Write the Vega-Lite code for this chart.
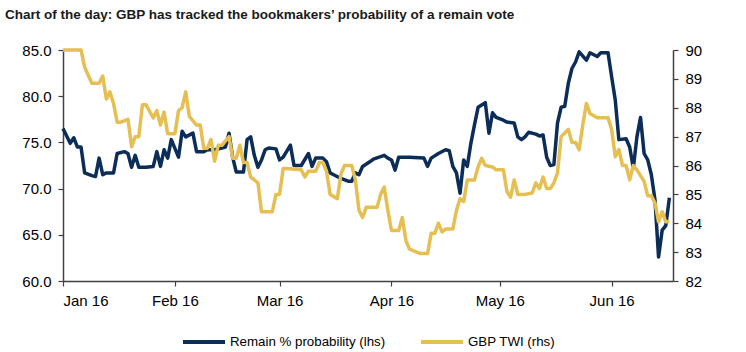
{
  "$schema": "https://vega.github.io/schema/vega-lite/v6.json",
  "width": 610,
  "height": 231,
  "padding": {"left": 5, "right": 5, "top": 7, "bottom": 0},
  "background": "white",
  "title": {
    "text": "Chart of the day: GBP has tracked the bookmakers’ probability of a remain vote",
    "anchor": "start",
    "frame": "bounds",
    "font": "Liberation Sans",
    "fontSize": 13.5,
    "fontWeight": "bold",
    "color": "#1a1a1a",
    "offset": 22
  },
  "datasets": {
    "remain": [
      {"date": "2016-01-01", "v": 76.5}, {"date": "2016-01-03", "v": 74.9}, {"date": "2016-01-04", "v": 75.5},
      {"date": "2016-01-05", "v": 74.5}, {"date": "2016-01-06", "v": 74.5}, {"date": "2016-01-07", "v": 71.7},
      {"date": "2016-01-09", "v": 71.4}, {"date": "2016-01-10", "v": 71.3}, {"date": "2016-01-11", "v": 73.3},
      {"date": "2016-01-12", "v": 71.5}, {"date": "2016-01-13", "v": 71.7}, {"date": "2016-01-15", "v": 71.7},
      {"date": "2016-01-16", "v": 73.8}, {"date": "2016-01-18", "v": 74.0}, {"date": "2016-01-19", "v": 73.8},
      {"date": "2016-01-20", "v": 72.3}, {"date": "2016-01-21", "v": 73.6}, {"date": "2016-01-22", "v": 72.3},
      {"date": "2016-01-24", "v": 72.3}, {"date": "2016-01-26", "v": 72.4}, {"date": "2016-01-27", "v": 74.0},
      {"date": "2016-01-28", "v": 72.4}, {"date": "2016-01-29", "v": 74.2}, {"date": "2016-01-30", "v": 73.3},
      {"date": "2016-01-31", "v": 75.3}, {"date": "2016-02-02", "v": 73.4}, {"date": "2016-02-03", "v": 76.2},
      {"date": "2016-02-04", "v": 75.6}, {"date": "2016-02-06", "v": 76.0}, {"date": "2016-02-07", "v": 74.0},
      {"date": "2016-02-09", "v": 74.0}, {"date": "2016-02-10", "v": 74.2}, {"date": "2016-02-12", "v": 74.2},
      {"date": "2016-02-14", "v": 74.4}, {"date": "2016-02-15", "v": 74.5}, {"date": "2016-02-16", "v": 76.0},
      {"date": "2016-02-17", "v": 73.4}, {"date": "2016-02-18", "v": 71.8}, {"date": "2016-02-20", "v": 71.8},
      {"date": "2016-02-21", "v": 75.3}, {"date": "2016-02-22", "v": 75.6}, {"date": "2016-02-23", "v": 73.6},
      {"date": "2016-02-24", "v": 72.3}, {"date": "2016-02-25", "v": 73.1}, {"date": "2016-02-26", "v": 74.2},
      {"date": "2016-02-27", "v": 74.4}, {"date": "2016-02-29", "v": 74.3}, {"date": "2016-03-01", "v": 73.1},
      {"date": "2016-03-02", "v": 73.4}, {"date": "2016-03-04", "v": 74.7}, {"date": "2016-03-05", "v": 72.5},
      {"date": "2016-03-07", "v": 72.5}, {"date": "2016-03-09", "v": 73.8}, {"date": "2016-03-10", "v": 72.4},
      {"date": "2016-03-11", "v": 73.3}, {"date": "2016-03-13", "v": 73.3}, {"date": "2016-03-14", "v": 72.9},
      {"date": "2016-03-15", "v": 71.7}, {"date": "2016-03-16", "v": 71.5}, {"date": "2016-03-18", "v": 71.1},
      {"date": "2016-03-20", "v": 70.8}, {"date": "2016-03-21", "v": 70.8}, {"date": "2016-03-22", "v": 71.7},
      {"date": "2016-03-23", "v": 71.5}, {"date": "2016-03-24", "v": 72.4}, {"date": "2016-03-26", "v": 72.9},
      {"date": "2016-03-27", "v": 73.2}, {"date": "2016-03-30", "v": 73.6}, {"date": "2016-03-31", "v": 73.3},
      {"date": "2016-04-01", "v": 73.1}, {"date": "2016-04-02", "v": 72.0}, {"date": "2016-04-03", "v": 73.4},
      {"date": "2016-04-06", "v": 73.4}, {"date": "2016-04-10", "v": 73.3}, {"date": "2016-04-11", "v": 72.4},
      {"date": "2016-04-12", "v": 73.3}, {"date": "2016-04-14", "v": 73.8}, {"date": "2016-04-16", "v": 74.2},
      {"date": "2016-04-17", "v": 74.1}, {"date": "2016-04-18", "v": 72.4}, {"date": "2016-04-19", "v": 71.7},
      {"date": "2016-04-20", "v": 69.5}, {"date": "2016-04-21", "v": 73.1}, {"date": "2016-04-22", "v": 72.4},
      {"date": "2016-04-23", "v": 74.9}, {"date": "2016-04-24", "v": 76.9}, {"date": "2016-04-25", "v": 78.8},
      {"date": "2016-04-27", "v": 79.3}, {"date": "2016-04-28", "v": 76.0}, {"date": "2016-04-29", "v": 78.2},
      {"date": "2016-04-30", "v": 77.7}, {"date": "2016-05-02", "v": 77.4}, {"date": "2016-05-03", "v": 77.2},
      {"date": "2016-05-05", "v": 77.1}, {"date": "2016-05-06", "v": 75.6}, {"date": "2016-05-07", "v": 75.3},
      {"date": "2016-05-08", "v": 75.6}, {"date": "2016-05-09", "v": 76.1}, {"date": "2016-05-11", "v": 75.9},
      {"date": "2016-05-12", "v": 75.7}, {"date": "2016-05-13", "v": 75.8}, {"date": "2016-05-14", "v": 73.4},
      {"date": "2016-05-15", "v": 72.5}, {"date": "2016-05-16", "v": 72.6}, {"date": "2016-05-17", "v": 77.1},
      {"date": "2016-05-18", "v": 78.8}, {"date": "2016-05-19", "v": 78.9}, {"date": "2016-05-20", "v": 81.4},
      {"date": "2016-05-21", "v": 83.0}, {"date": "2016-05-22", "v": 83.7}, {"date": "2016-05-23", "v": 84.8},
      {"date": "2016-05-25", "v": 83.9}, {"date": "2016-05-26", "v": 84.7}, {"date": "2016-05-28", "v": 84.3},
      {"date": "2016-05-29", "v": 84.7}, {"date": "2016-05-31", "v": 84.7}, {"date": "2016-06-01", "v": 82.1},
      {"date": "2016-06-02", "v": 79.6}, {"date": "2016-06-03", "v": 75.3}, {"date": "2016-06-05", "v": 75.4},
      {"date": "2016-06-06", "v": 74.5}, {"date": "2016-06-07", "v": 72.2}, {"date": "2016-06-08", "v": 75.6},
      {"date": "2016-06-09", "v": 77.7}, {"date": "2016-06-10", "v": 73.8}, {"date": "2016-06-11", "v": 73.1},
      {"date": "2016-06-12", "v": 71.5}, {"date": "2016-06-13", "v": 68.8}, {"date": "2016-06-14", "v": 62.6},
      {"date": "2016-06-15", "v": 65.5}, {"date": "2016-06-16", "v": 66.0}, {"date": "2016-06-17", "v": 69.0}
    ],
    "twi": [
      {"date": "2016-01-01", "v": 90.0}, {"date": "2016-01-06", "v": 90.0}, {"date": "2016-01-07", "v": 89.4},
      {"date": "2016-01-09", "v": 88.85}, {"date": "2016-01-11", "v": 88.85}, {"date": "2016-01-12", "v": 89.1},
      {"date": "2016-01-13", "v": 88.3}, {"date": "2016-01-14", "v": 88.55}, {"date": "2016-01-15", "v": 88.15},
      {"date": "2016-01-16", "v": 87.5}, {"date": "2016-01-17", "v": 87.5}, {"date": "2016-01-19", "v": 87.6},
      {"date": "2016-01-20", "v": 86.65}, {"date": "2016-01-21", "v": 87.0}, {"date": "2016-01-22", "v": 87.0},
      {"date": "2016-01-23", "v": 88.1}, {"date": "2016-01-24", "v": 88.1}, {"date": "2016-01-26", "v": 87.65},
      {"date": "2016-01-27", "v": 87.9}, {"date": "2016-01-28", "v": 87.4}, {"date": "2016-01-29", "v": 87.85},
      {"date": "2016-01-30", "v": 87.1}, {"date": "2016-02-01", "v": 87.1}, {"date": "2016-02-02", "v": 87.9},
      {"date": "2016-02-03", "v": 88.0}, {"date": "2016-02-04", "v": 88.55}, {"date": "2016-02-05", "v": 87.7},
      {"date": "2016-02-07", "v": 87.4}, {"date": "2016-02-08", "v": 87.4}, {"date": "2016-02-09", "v": 86.6},
      {"date": "2016-02-10", "v": 86.6}, {"date": "2016-02-11", "v": 86.9}, {"date": "2016-02-12", "v": 86.15},
      {"date": "2016-02-13", "v": 86.7}, {"date": "2016-02-14", "v": 86.7}, {"date": "2016-02-16", "v": 87.0},
      {"date": "2016-02-17", "v": 86.25}, {"date": "2016-02-18", "v": 86.25}, {"date": "2016-02-19", "v": 86.7},
      {"date": "2016-02-20", "v": 86.1}, {"date": "2016-02-21", "v": 86.1}, {"date": "2016-02-22", "v": 85.6},
      {"date": "2016-02-24", "v": 85.4}, {"date": "2016-02-25", "v": 84.4}, {"date": "2016-02-28", "v": 84.4},
      {"date": "2016-02-29", "v": 85.0}, {"date": "2016-03-01", "v": 85.0}, {"date": "2016-03-02", "v": 85.9},
      {"date": "2016-03-03", "v": 85.9}, {"date": "2016-03-07", "v": 85.85}, {"date": "2016-03-08", "v": 85.6},
      {"date": "2016-03-09", "v": 85.8}, {"date": "2016-03-11", "v": 85.8}, {"date": "2016-03-12", "v": 86.1},
      {"date": "2016-03-13", "v": 86.1}, {"date": "2016-03-14", "v": 85.8}, {"date": "2016-03-15", "v": 85.0},
      {"date": "2016-03-17", "v": 84.85}, {"date": "2016-03-18", "v": 85.7}, {"date": "2016-03-19", "v": 86.0},
      {"date": "2016-03-21", "v": 86.0}, {"date": "2016-03-22", "v": 85.5}, {"date": "2016-03-23", "v": 84.45},
      {"date": "2016-03-24", "v": 84.2}, {"date": "2016-03-25", "v": 84.55}, {"date": "2016-03-28", "v": 84.55},
      {"date": "2016-03-29", "v": 85.0}, {"date": "2016-03-30", "v": 85.25}, {"date": "2016-03-31", "v": 84.45},
      {"date": "2016-04-01", "v": 83.75}, {"date": "2016-04-03", "v": 83.75}, {"date": "2016-04-04", "v": 84.2},
      {"date": "2016-04-05", "v": 83.4}, {"date": "2016-04-06", "v": 83.1}, {"date": "2016-04-07", "v": 83.05},
      {"date": "2016-04-09", "v": 82.95}, {"date": "2016-04-11", "v": 82.95}, {"date": "2016-04-12", "v": 83.65},
      {"date": "2016-04-13", "v": 83.65}, {"date": "2016-04-14", "v": 84.0}, {"date": "2016-04-15", "v": 83.7},
      {"date": "2016-04-16", "v": 83.8}, {"date": "2016-04-18", "v": 83.8}, {"date": "2016-04-19", "v": 84.45},
      {"date": "2016-04-20", "v": 84.85}, {"date": "2016-04-21", "v": 84.75}, {"date": "2016-04-22", "v": 85.5},
      {"date": "2016-04-24", "v": 85.5}, {"date": "2016-04-25", "v": 85.95}, {"date": "2016-04-26", "v": 86.25},
      {"date": "2016-04-27", "v": 86.0}, {"date": "2016-04-29", "v": 85.95}, {"date": "2016-04-30", "v": 85.85},
      {"date": "2016-05-02", "v": 85.85}, {"date": "2016-05-03", "v": 85.1}, {"date": "2016-05-04", "v": 84.9},
      {"date": "2016-05-05", "v": 85.5}, {"date": "2016-05-06", "v": 85.0}, {"date": "2016-05-08", "v": 85.0},
      {"date": "2016-05-10", "v": 85.05}, {"date": "2016-05-11", "v": 85.4}, {"date": "2016-05-12", "v": 85.2},
      {"date": "2016-05-13", "v": 85.6}, {"date": "2016-05-14", "v": 85.2}, {"date": "2016-05-15", "v": 85.2},
      {"date": "2016-05-16", "v": 85.4}, {"date": "2016-05-17", "v": 85.75}, {"date": "2016-05-18", "v": 87.0},
      {"date": "2016-05-20", "v": 87.25}, {"date": "2016-05-21", "v": 86.8}, {"date": "2016-05-22", "v": 86.8},
      {"date": "2016-05-23", "v": 86.55}, {"date": "2016-05-24", "v": 87.4}, {"date": "2016-05-25", "v": 88.15},
      {"date": "2016-05-26", "v": 87.8}, {"date": "2016-05-28", "v": 87.65}, {"date": "2016-05-31", "v": 87.65},
      {"date": "2016-06-01", "v": 87.25}, {"date": "2016-06-02", "v": 86.3}, {"date": "2016-06-03", "v": 86.55},
      {"date": "2016-06-04", "v": 86.0}, {"date": "2016-06-05", "v": 86.0}, {"date": "2016-06-06", "v": 85.5},
      {"date": "2016-06-07", "v": 86.0}, {"date": "2016-06-08", "v": 85.85}, {"date": "2016-06-10", "v": 85.45},
      {"date": "2016-06-11", "v": 84.95}, {"date": "2016-06-12", "v": 84.95}, {"date": "2016-06-13", "v": 84.7},
      {"date": "2016-06-14", "v": 84.05}, {"date": "2016-06-15", "v": 84.4}, {"date": "2016-06-16", "v": 84.05},
      {"date": "2016-06-17", "v": 84.05}
    ]
  },
  "layer": [
    {
      "data": {"name": "remain"},
      "mark": {"type": "line", "strokeWidth": 3.5, "strokeJoin": "round"},
      "encoding": {
        "x": {
          "field": "date", "type": "temporal",
          "scale": {"type": "utc", "domain": [{"year": 2016, "month": 1, "date": 1, "utc": true}, {"year": 2016, "month": 6, "date": 18, "utc": true}]},
          "axis": {
            "title": null, "format": "%b %y",
            "values": [
              {"year": 2016, "month": 1, "date": 1, "utc": true},
              {"year": 2016, "month": 2, "date": 1, "utc": true},
              {"year": 2016, "month": 3, "date": 1, "utc": true},
              {"year": 2016, "month": 4, "date": 1, "utc": true},
              {"year": 2016, "month": 5, "date": 1, "utc": true},
              {"year": 2016, "month": 6, "date": 1, "utc": true}
            ]
          }
        },
        "y": {
          "field": "v", "type": "quantitative",
          "scale": {"domain": [60, 85], "nice": false, "zero": false},
          "axis": {"title": null, "orient": "left", "values": [60, 65, 70, 75, 80, 85], "format": ".1f", "minExtent": 58, "maxExtent": 58}
        },
        "color": {
          "datum": "Remain % probability (lhs)",
          "scale": {"domain": ["Remain % probability (lhs)", "GBP TWI (rhs)"], "range": ["#0b2d58", "#e6bf52"]},
          "legend": {
            "orient": "bottom", "direction": "horizontal", "title": null,
            "symbolType": "stroke", "symbolSize": 1764, "symbolStrokeWidth": 4,
            "labelFont": "Liberation Sans", "labelFontSize": 13.3, "labelColor": "#000", "labelLimit": 400,
            "columnPadding": 27, "labelOffset": 3, "offset": 11
          }
        }
      }
    },
    {
      "data": {"name": "twi"},
      "mark": {"type": "line", "strokeWidth": 3.5, "strokeJoin": "round"},
      "encoding": {
        "x": {
          "field": "date", "type": "temporal",
          "scale": {"type": "utc", "domain": [{"year": 2016, "month": 1, "date": 1, "utc": true}, {"year": 2016, "month": 6, "date": 18, "utc": true}]}
        },
        "y": {
          "field": "v", "type": "quantitative",
          "scale": {"domain": [82, 90], "nice": false, "zero": false},
          "axis": {"title": null, "orient": "right", "values": [82, 83, 84, 85, 86, 87, 88, 89, 90], "format": "d", "minExtent": 68, "maxExtent": 68}
        },
        "color": {"datum": "GBP TWI (rhs)"}
      }
    }
  ],
  "resolve": {"scale": {"y": "independent"}},
  "config": {
    "view": {"stroke": null},
    "legend": {"layout": {"bottom": {"anchor": "middle"}}},
    "axis": {
      "grid": false,
      "domainColor": "#404040",
      "domainWidth": 1.5,
      "tickColor": "#404040",
      "tickWidth": 1.2,
      "tickSize": 5,
      "labelPadding": 7,
      "labelFont": "Liberation Sans",
      "labelFontSize": 15,
      "labelColor": "#000"
    }
  }
}
